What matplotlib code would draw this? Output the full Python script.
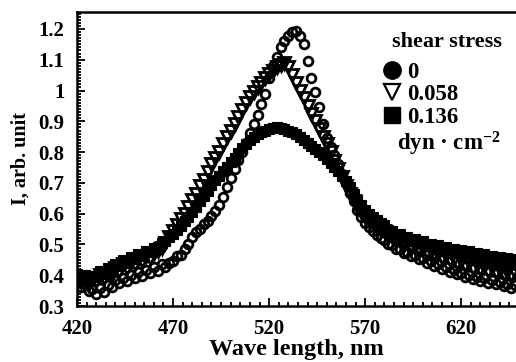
import numpy as np
import matplotlib
matplotlib.use("Agg")
import matplotlib.pyplot as plt
from matplotlib.lines import Line2D
from matplotlib.ticker import MultipleLocator, FixedLocator, FixedFormatter

plt.rcParams['font.family'] = ['Liberation Serif', 'DejaVu Serif']
plt.rcParams['font.weight'] = 'bold'
plt.rcParams['mathtext.fontset'] = 'custom'
plt.rcParams['mathtext.rm'] = 'Liberation Serif:bold'
plt.rcParams['mathtext.bf'] = 'Liberation Serif:bold'
plt.rcParams['mathtext.it'] = 'Liberation Serif:bold'

# wavelength grid (nm), 2 nm step
wavelength = np.arange(420, 649, 2)

# shear stress 0 (open circles)
I_0 = [0.380, 0.362, 0.372, 0.350, 0.356, 0.340, 0.358, 0.345, 0.368, 0.362,
       0.385, 0.376, 0.390, 0.382, 0.402, 0.390, 0.410, 0.398, 0.418, 0.408,
       0.426, 0.415, 0.435, 0.428, 0.440, 0.445, 0.462, 0.465, 0.485, 0.500,
       0.525, 0.540, 0.550, 0.565, 0.575, 0.592, 0.610, 0.628, 0.655, 0.685,
       0.715, 0.745, 0.775, 0.800, 0.830, 0.862, 0.892, 0.920, 0.955, 0.990,
       1.040, 1.080, 1.110, 1.140, 1.160, 1.178, 1.190, 1.192, 1.178, 1.150,
       1.095, 1.040, 0.995, 0.945, 0.890, 0.845, 0.815, 0.790, 0.760, 0.728,
       0.700, 0.668, 0.640, 0.612, 0.590, 0.570, 0.558, 0.545, 0.532, 0.522,
       0.515, 0.500, 0.498, 0.485, 0.486, 0.472, 0.474, 0.462, 0.465, 0.452,
       0.455, 0.440, 0.445, 0.430, 0.435, 0.420, 0.426, 0.412, 0.418, 0.404,
       0.408, 0.395, 0.400, 0.388, 0.394, 0.382, 0.390, 0.376, 0.384, 0.372,
       0.378, 0.365, 0.372, 0.360, 0.368]

# shear stress 0.058 (open down triangles)
I_058 = [0.392, 0.378, 0.388, 0.370, 0.385, 0.382, 0.400, 0.392, 0.408, 0.402,
         0.422, 0.415, 0.435, 0.425, 0.442, 0.436, 0.452, 0.445, 0.462, 0.456,
         0.472, 0.480, 0.490, 0.505, 0.525, 0.545, 0.562, 0.582, 0.600, 0.620,
         0.645, 0.665, 0.690, 0.710, 0.735, 0.760, 0.780, 0.800, 0.825, 0.850,
         0.870, 0.892, 0.915, 0.938, 0.958, 0.978, 0.995, 1.010, 1.025, 1.040,
         1.052, 1.062, 1.075, 1.082, 1.088, 1.075, 1.050, 1.025, 1.000, 0.975,
         0.950, 0.925, 0.900, 0.875, 0.850, 0.825, 0.800, 0.772, 0.745, 0.718,
         0.690, 0.665, 0.640, 0.620, 0.605, 0.590, 0.578, 0.568, 0.558, 0.548,
         0.545, 0.530, 0.528, 0.512, 0.515, 0.500, 0.505, 0.490, 0.495, 0.482,
         0.486, 0.472, 0.478, 0.462, 0.468, 0.455, 0.462, 0.448, 0.452, 0.440,
         0.446, 0.432, 0.440, 0.425, 0.432, 0.420, 0.428, 0.415, 0.422, 0.410,
         0.418, 0.405, 0.412, 0.400, 0.408]

# shear stress 0.136 (filled squares)
I_136 = [0.405, 0.390, 0.402, 0.385, 0.398, 0.395, 0.415, 0.405, 0.425, 0.418,
         0.438, 0.430, 0.448, 0.440, 0.460, 0.452, 0.470, 0.462, 0.480, 0.475,
         0.490, 0.492, 0.505, 0.512, 0.525, 0.535, 0.548, 0.560, 0.575, 0.590,
         0.605, 0.622, 0.640, 0.658, 0.675, 0.692, 0.708, 0.722, 0.738, 0.752,
         0.768, 0.782, 0.798, 0.812, 0.825, 0.838, 0.848, 0.858, 0.865, 0.870,
         0.875, 0.878, 0.880, 0.878, 0.875, 0.870, 0.865, 0.858, 0.850, 0.840,
         0.830, 0.820, 0.810, 0.800, 0.790, 0.778, 0.765, 0.752, 0.738, 0.722,
         0.705, 0.685, 0.665, 0.645, 0.628, 0.612, 0.600, 0.588, 0.578, 0.568,
         0.562, 0.548, 0.545, 0.530, 0.535, 0.520, 0.524, 0.512, 0.518, 0.505,
         0.510, 0.498, 0.503, 0.490, 0.497, 0.484, 0.492, 0.478, 0.486, 0.474,
         0.482, 0.470, 0.478, 0.464, 0.472, 0.460, 0.468, 0.455, 0.463, 0.452,
         0.460, 0.448, 0.456, 0.445, 0.452]

series_labels = ["0", "0.058", "0.136"]
legend_title = "shear stress"
unit_label = "dyn \u00b7 cm$^{-2}$"
x_ticks = [420, 470, 520, 570, 620]
y_ticks = [0.3, 0.4, 0.5, 0.6, 0.7, 0.8, 0.9, 1.0, 1.1, 1.2]
y_tick_labels = ["0.3", "0.4", "0.5", "0.6", "0.7", "0.8", "0.9", "1", "1.1", "1.2"]

fig = plt.figure(figsize=(5.16, 3.62), dpi=100)
ax = fig.add_axes([77 / 516, 1 - 306 / 362, 439 / 516, 294 / 362])

ax.plot(wavelength, I_136, linestyle='none', marker='s', markersize=7.5,
        markerfacecolor='black', markeredgecolor='black', markeredgewidth=0.8)
ax.plot(wavelength, I_058, linestyle='none', marker='v', markersize=8,
        markerfacecolor='none', markeredgecolor='black', markeredgewidth=2.0)
ax.plot(wavelength, I_0, linestyle='none', marker='o', markersize=6.3,
        markerfacecolor='none', markeredgecolor='black', markeredgewidth=2.0)

ax.set_xlim(420, 648.5)
ax.set_ylim(0.3, 1.255)

ax.xaxis.set_major_locator(FixedLocator(x_ticks))
ax.xaxis.set_minor_locator(MultipleLocator(5))
ax.yaxis.set_major_locator(FixedLocator(y_ticks))
ax.yaxis.set_major_formatter(FixedFormatter(y_tick_labels))
ax.yaxis.set_minor_locator(MultipleLocator(0.01))

ax.tick_params(which='both', direction='in', top=False, right=False, width=1.3)
ax.tick_params(which='major', length=6, labelsize=15)
ax.tick_params(axis='x', which='major', pad=9)
ax.tick_params(axis='y', which='major', pad=9)
ax.tick_params(which='minor', length=3)
for lab in ax.get_xticklabels() + ax.get_yticklabels():
    lab.set_fontweight('bold')

for s in ['left', 'bottom', 'top']:
    ax.spines[s].set_linewidth(1.8)
ax.spines['right'].set_visible(False)

ax.set_xlabel("Wave length, nm", fontsize=17.5, fontweight='bold', labelpad=0)
ax.set_ylabel("I, arb. unit", fontsize=14.5, fontweight='bold', labelpad=6)

handles = [
    Line2D([], [], linestyle='none', marker='o', markersize=12.5,
           markerfacecolor='black', markeredgecolor='black'),
    Line2D([], [], linestyle='none', marker='v', markersize=11.5,
           markerfacecolor='white', markeredgecolor='black', markeredgewidth=1.6),
    Line2D([], [], linestyle='none', marker='s', markersize=11.5,
           markerfacecolor='black', markeredgecolor='black'),
]
leg = ax.legend(handles, series_labels,
                loc='upper left', bbox_to_anchor=(0.695, 0.831),
                frameon=False, prop={'size': 16.5, 'weight': 'bold'},
                handlelength=0.9, handletextpad=0.2, labelspacing=0.06,
                borderpad=0, borderaxespad=0)

ax.text(0.843, 0.898, legend_title, transform=ax.transAxes,
        fontsize=16, fontweight='bold', ha='center', va='center')
ax.text(0.73, 0.55, unit_label, transform=ax.transAxes,
        fontsize=16.5, fontweight='bold', ha='left', va='center')

fig.savefig("out.png", dpi=100)
